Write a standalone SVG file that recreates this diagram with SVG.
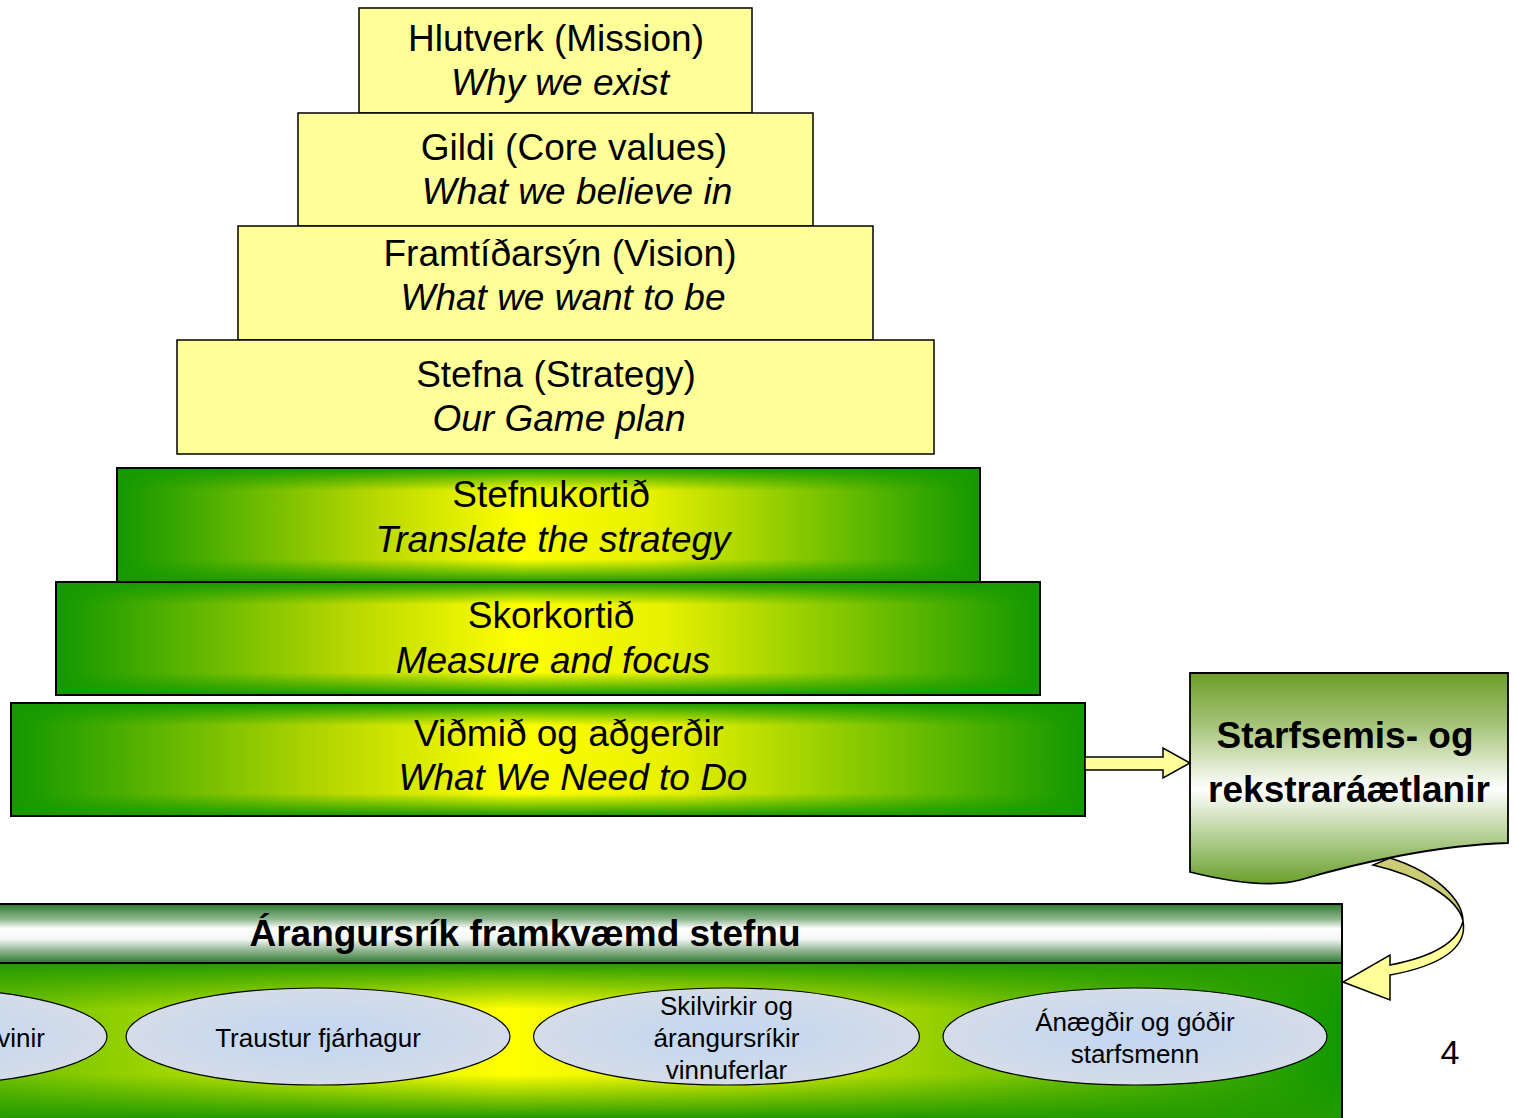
<svg xmlns="http://www.w3.org/2000/svg" width="1514" height="1118" viewBox="0 0 1514 1118">
  <style>
    .lbl { font-family: "Liberation Sans", Arial, sans-serif; font-size: 37px; fill: #000; text-anchor: middle; }
    .it { font-style: italic; }
    .bold { font-weight: bold; }
    .small { font-size: 26px; }
    .pale { fill: #FFFF99; stroke: #000; stroke-width: 1.5; }
    .edge { fill: none; stroke: #000; stroke-width: 2; }
    .oval { fill: url(#ovalFill); stroke: #000; stroke-width: 1.2; }
  </style>
  <defs>
    <!-- green / yellow fill used by the three lower pyramid steps -->
    <linearGradient id="gyH" x1="0" y1="0" x2="1" y2="0">
      <stop offset="0" stop-color="#129800"/>
      <stop offset="0.3" stop-color="#B8D800"/>
      <stop offset="0.47" stop-color="#FFFF00"/>
      <stop offset="0.62" stop-color="#E6F000"/>
      <stop offset="1" stop-color="#129800"/>
    </linearGradient>
    <linearGradient id="gyV" x1="0" y1="0" x2="0" y2="1">
      <stop offset="0" stop-color="#169A00" stop-opacity="1"/>
      <stop offset="0.2" stop-color="#169A00" stop-opacity="0"/>
      <stop offset="0.8" stop-color="#169A00" stop-opacity="0"/>
      <stop offset="1" stop-color="#169A00" stop-opacity="1"/>
    </linearGradient>
    <!-- bottom panel -->
    <linearGradient id="panelH" gradientUnits="userSpaceOnUse" x1="-330" y1="0" x2="1342" y2="0">
      <stop offset="0" stop-color="#129800"/>
      <stop offset="0.5" stop-color="#FFFF00"/>
      <stop offset="0.62" stop-color="#E0EE00"/>
      <stop offset="1" stop-color="#129800"/>
    </linearGradient>
    <linearGradient id="panelV" gradientUnits="userSpaceOnUse" x1="0" y1="963" x2="0" y2="1118">
      <stop offset="0" stop-color="#229A00" stop-opacity="1"/>
      <stop offset="0.3" stop-color="#229A00" stop-opacity="0"/>
      <stop offset="0.72" stop-color="#229A00" stop-opacity="0"/>
      <stop offset="1" stop-color="#229A00" stop-opacity="1"/>
    </linearGradient>
    <linearGradient id="band" x1="0" y1="0" x2="0" y2="1">
      <stop offset="0" stop-color="#2E7A2E"/>
      <stop offset="0.25" stop-color="#8CB48C"/>
      <stop offset="0.42" stop-color="#FFFFFF"/>
      <stop offset="0.6" stop-color="#F2F6F2"/>
      <stop offset="0.8" stop-color="#8CB08C"/>
      <stop offset="1" stop-color="#2E7A2E"/>
    </linearGradient>
    <linearGradient id="docFill" x1="0" y1="0" x2="0" y2="1">
      <stop offset="0" stop-color="#6C9E28"/>
      <stop offset="0.25" stop-color="#A6C47A"/>
      <stop offset="0.55" stop-color="#FFFFFF"/>
      <stop offset="1" stop-color="#6AA02C"/>
    </linearGradient>
    <radialGradient id="ovalFill" cx="0.5" cy="0.5" r="0.5">
      <stop offset="0" stop-color="#C2D6F2"/>
      <stop offset="1" stop-color="#D4DCE8"/>
    </radialGradient>
  </defs>

  <!-- upper pyramid steps -->
  <g id="mission">
    <rect class="pale" x="359" y="8" width="393" height="105"/>
    <text class="lbl" x="556" y="51">Hlutverk (Mission)</text>
    <text class="lbl it" x="560" y="95">Why we exist</text>
  </g>
  <g id="values">
    <rect class="pale" x="298" y="113" width="515" height="113"/>
    <text class="lbl" x="574" y="160">Gildi (Core values)</text>
    <text class="lbl it" x="577" y="204">What we believe in</text>
  </g>
  <g id="vision">
    <rect class="pale" x="238" y="226" width="635" height="114"/>
    <text class="lbl" x="560" y="266">Framtíðarsýn (Vision)</text>
    <text class="lbl it" x="563" y="310">What we want to be</text>
  </g>
  <g id="strategy">
    <rect class="pale" x="177" y="340" width="757" height="114"/>
    <text class="lbl" x="556" y="387">Stefna (Strategy)</text>
    <text class="lbl it" x="559" y="431">Our Game plan</text>
  </g>

  <!-- lower pyramid steps -->
  <g id="strategy-map">
    <rect x="117" y="468" width="863" height="114" fill="url(#gyH)"/>
    <rect x="117" y="468" width="863" height="114" fill="url(#gyV)"/>
    <rect class="edge" x="117" y="468" width="863" height="114"/>
    <text class="lbl" x="551" y="507">Stefnukortið</text>
    <text class="lbl it" x="553" y="552">Translate the strategy</text>
  </g>
  <g id="scorecard">
    <rect x="56" y="582" width="984" height="113" fill="url(#gyH)"/>
    <rect x="56" y="582" width="984" height="113" fill="url(#gyV)"/>
    <rect class="edge" x="56" y="582" width="984" height="113"/>
    <text class="lbl" x="551" y="628">Skorkortið</text>
    <text class="lbl it" x="553" y="673">Measure and focus</text>
  </g>
  <g id="actions">
    <rect x="11" y="703" width="1074" height="113" fill="url(#gyH)"/>
    <rect x="11" y="703" width="1074" height="113" fill="url(#gyV)"/>
    <rect class="edge" x="11" y="703" width="1074" height="113"/>
    <text class="lbl" x="569" y="746">Viðmið og aðgerðir</text>
    <text class="lbl it" x="573" y="790">What We Need to Do</text>
  </g>

  <!-- operating plan document -->
  <g id="operating-plans">
    <path d="M1190,673 H1508 V843 C1440,845 1360,862 1300,880 C1270,888 1230,882 1190,872 Z" fill="url(#docFill)" stroke="#000" stroke-width="1.8"/>
    <text class="lbl bold" x="1345" y="748">Starfsemis- og</text>
    <text class="lbl bold" x="1349" y="802">rekstraráætlanir</text>
  </g>

  <!-- execution panel -->
  <g id="execution">
    <rect x="-2" y="963" width="1344" height="160" fill="url(#panelH)"/>
    <rect x="-2" y="963" width="1344" height="160" fill="url(#panelV)"/>
    <rect x="-2" y="963" width="1344" height="160" fill="none" stroke="#000" stroke-width="2"/>
    <rect x="-2" y="904" width="1344" height="59" fill="url(#band)" stroke="#000" stroke-width="2"/>
    <text class="lbl bold" x="525" y="946">Árangursrík framkvæmd stefnu</text>
  </g>
  <g id="customers">
    <ellipse class="oval" cx="-86" cy="1036.5" rx="193" ry="48.5"/>
    <text class="lbl small" x="45" y="1047" text-anchor="end" style="text-anchor:end">vinir</text>
  </g>
  <g id="finances">
    <ellipse class="oval" cx="318" cy="1036.5" rx="192" ry="48.5"/>
    <text class="lbl small" x="318" y="1047">Traustur fjárhagur</text>
  </g>
  <g id="processes">
    <ellipse class="oval" cx="726.5" cy="1036.5" rx="193" ry="48.5"/>
    <text class="lbl small" x="726.5" y="1015">Skilvirkir og</text>
    <text class="lbl small" x="726.5" y="1047">árangursríkir</text>
    <text class="lbl small" x="726.5" y="1079">vinnuferlar</text>
  </g>
  <g id="staff">
    <ellipse class="oval" cx="1135" cy="1036.5" rx="192" ry="48.5"/>
    <text class="lbl small" x="1135" y="1031">Ánægðir og góðir</text>
    <text class="lbl small" x="1135" y="1063">starfsmenn</text>
  </g>

  <!-- connectors -->
  <g id="connectors" stroke="#000" stroke-width="1.5" stroke-linejoin="miter">
    <polygon points="1085,757 1163,757 1163,748 1190,763 1163,778 1163,770 1085,770" fill="#FFFF99"/>
    <path d="M1373,865 C1420,876 1458,898 1463,921 C1463,900 1435,872 1390,858 Z" fill="#CCCC77"/>
    <path d="M1463,921 C1468,948 1440,966 1390,975 L1390,1000 L1343,982 L1390,955 L1390,965 C1432,957 1458,942 1463,921 Z" fill="#FFFF99"/>
  </g>

  <text class="lbl" x="1450" y="1064" style="font-size:34px">4</text>
</svg>
